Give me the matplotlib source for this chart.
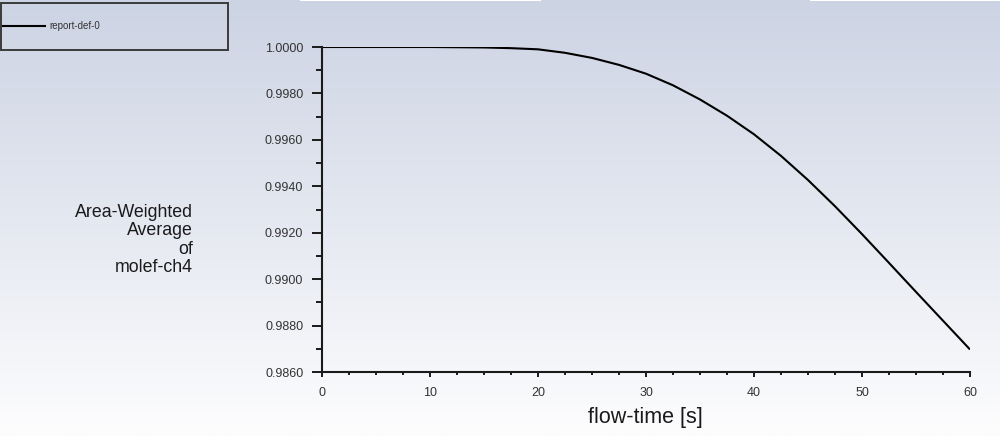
"""Fluent-style monitor plot: area-weighted average of molef-ch4 vs flow-time."""
import matplotlib
matplotlib.use("Agg")
import matplotlib.pyplot as plt
import numpy as np
from matplotlib.lines import Line2D
from matplotlib.patches import Rectangle
from matplotlib.ticker import FormatStrFormatter, MultipleLocator

plt.rcParams["font.family"] = ["Liberation Sans", "DejaVu Sans"]

# values
flow_time = [0, 2.5, 5, 7.5, 10, 12.5, 15, 17.5, 20, 22.5, 25, 27.5, 30,
             32.5, 35, 37.5, 40, 42.5, 45, 47.5, 50, 52.5, 55, 57.5, 60]
molef_ch4 = [1.00000, 1.00000, 1.00000, 1.00000, 1.00000, 0.99999, 0.99998,
             0.99995, 0.99990, 0.99975, 0.99953, 0.99923, 0.99885, 0.99835,
             0.99774, 0.99704, 0.99624, 0.99531, 0.99427, 0.99314, 0.99194,
             0.99070, 0.98945, 0.98821, 0.98697]
series_name = "report-def-0"
y_label_lines = ["Area-Weighted", "Average", "of", "molef-ch4"]
x_label = "flow-time [s]"

W, H = 1000, 436


def fx(x):
    return x / W


def fy(y):
    return 1 - y / H


fig = plt.figure(figsize=(W / 100, H / 100), dpi=100)

# background gradient, light blue-grey at top to white at bottom
bg = fig.add_axes([0, 0, 1, 1], zorder=-10)
top = np.array([204, 211, 227]) / 255
bot = np.array([253, 253, 254]) / 255
t = np.linspace(0, 1, 256)[:, None]
grad = (top[None, :] * (1 - t) + bot[None, :] * t)[:, None, :]
bg.imshow(grad, aspect="auto", extent=[0, 1, 0, 1], interpolation="bilinear")
bg.set_axis_off()
# thin white strips along the top edge
for x0, x1 in [(300, 541), (810, 1000)]:
    fig.patches.append(Rectangle((fx(x0), fy(1.5)), fx(x1 - x0), 1.5 / H,
                                 transform=fig.transFigure, color="white", lw=0))

ax = fig.add_axes([fx(322), fy(372), fx(970 - 322), (372 - 47) / H])
ax.patch.set_alpha(0)
ax.plot(flow_time, molef_ch4, color="black", lw=1.5, solid_capstyle="butt")

ax.set_xlim(0, 60)
ax.set_ylim(0.986, 1.0)
ax.xaxis.set_major_locator(MultipleLocator(10))
ax.xaxis.set_minor_locator(MultipleLocator(2.5))
ax.yaxis.set_major_locator(MultipleLocator(0.002))
ax.yaxis.set_minor_locator(MultipleLocator(0.001))
ax.yaxis.set_major_formatter(FormatStrFormatter("%.4f"))

for side in ["top", "right"]:
    ax.spines[side].set_visible(False)
for side in ["left", "bottom"]:
    ax.spines[side].set_linewidth(1.5)
    ax.spines[side].set_color("#1a1a1a")

ax.tick_params(axis="y", which="major", direction="out", length=7, width=1.4,
               pad=6.5, labelsize=9, labelcolor="#333333", color="#1a1a1a")
ax.tick_params(axis="y", which="minor", direction="out", length=4, width=1.4,
               color="#1a1a1a")
ax.tick_params(axis="x", which="major", direction="out", length=3.6, width=1.4,
               pad=7.5, labelsize=9, labelcolor="#333333", color="#1a1a1a")
ax.tick_params(axis="x", which="minor", direction="out", length=2.2, width=1.4,
               color="#1a1a1a")

fig.text(fx(645), fy(423), x_label, ha="center", va="baseline",
         fontsize=15.5, color="#1a1a1a")
for i, line in enumerate(y_label_lines):
    fig.text(fx(193), fy(217 + 18.4 * i), line, ha="right", va="baseline",
             fontsize=12.8, color="#1a1a1a")

# legend box, top-left
fig.patches.append(Rectangle((fx(1), fy(50)), fx(227), 47 / H,
                             transform=fig.transFigure, fill=False,
                             edgecolor="#3a3a3a", lw=1.4))
fig.lines.append(Line2D([fx(3), fx(45)], [fy(25.7), fy(25.7)],
                        transform=fig.transFigure, color="black", lw=1.5))
fig.text(fx(49), fy(25.7), series_name, ha="left", va="center",
         fontsize=7, color="#333333")

fig.savefig("out.png", dpi=100)
